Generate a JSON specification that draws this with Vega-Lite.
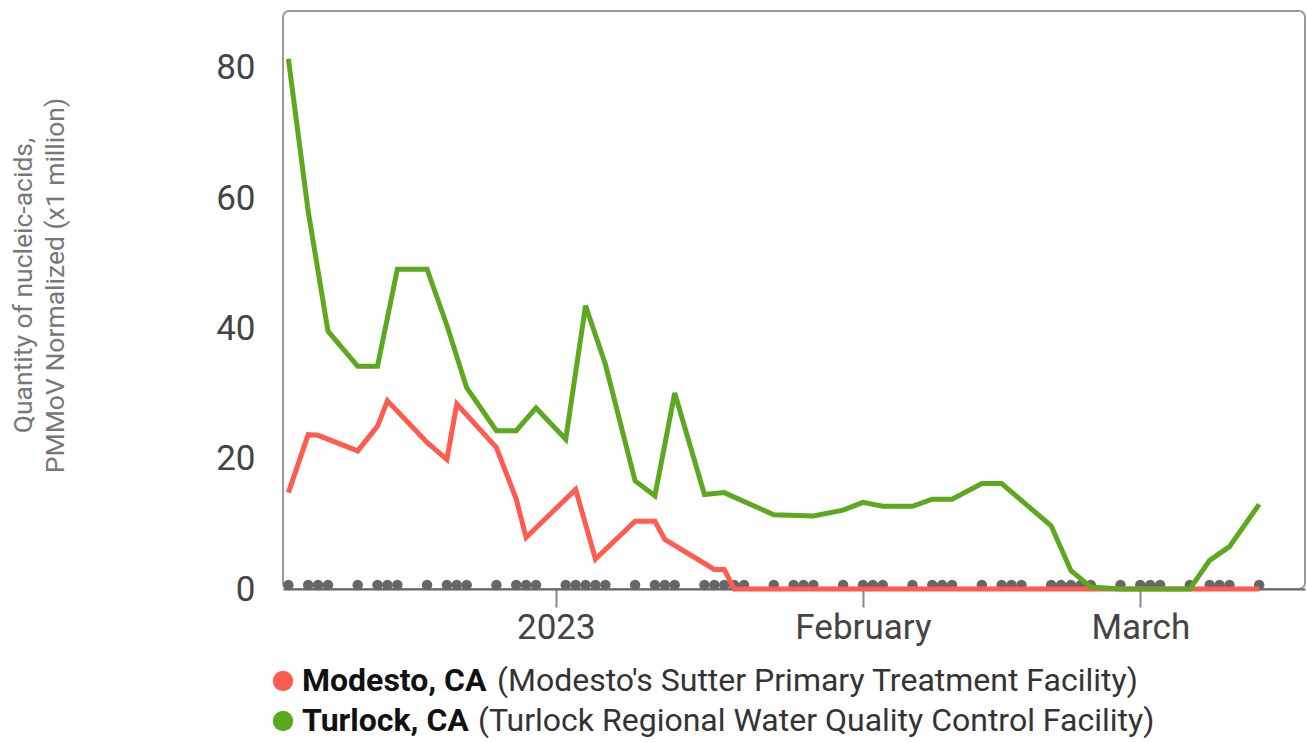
{
  "$schema": "https://vega.github.io/schema/vega-lite/v6.json",
  "padding": {"left": 9, "top": 10, "right": 0, "bottom": 0},
  "config": {"font": "Roboto", "view": {"stroke": null}},
  "spacing": 15,
  "datasets": {
    "samples": [
      {"site": "Modesto", "date": "2022-12-05", "value": 14.8},
      {"site": "Modesto", "date": "2022-12-07", "value": 23.7},
      {"site": "Modesto", "date": "2022-12-08", "value": 23.6},
      {"site": "Modesto", "date": "2022-12-12", "value": 21.2},
      {"site": "Modesto", "date": "2022-12-14", "value": 25.0},
      {"site": "Modesto", "date": "2022-12-15", "value": 28.9},
      {"site": "Modesto", "date": "2022-12-19", "value": 22.5},
      {"site": "Modesto", "date": "2022-12-21", "value": 19.9},
      {"site": "Modesto", "date": "2022-12-22", "value": 28.4},
      {"site": "Modesto", "date": "2022-12-26", "value": 21.7},
      {"site": "Modesto", "date": "2022-12-28", "value": 13.8},
      {"site": "Modesto", "date": "2022-12-29", "value": 7.9},
      {"site": "Modesto", "date": "2023-01-03", "value": 15.3},
      {"site": "Modesto", "date": "2023-01-05", "value": 4.6},
      {"site": "Modesto", "date": "2023-01-09", "value": 10.4},
      {"site": "Modesto", "date": "2023-01-11", "value": 10.4},
      {"site": "Modesto", "date": "2023-01-12", "value": 7.6},
      {"site": "Modesto", "date": "2023-01-17", "value": 3.0},
      {"site": "Modesto", "date": "2023-01-18", "value": 3.0},
      {"site": "Modesto", "date": "2023-01-19", "value": 0},
      {"site": "Modesto", "date": "2023-01-23", "value": 0},
      {"site": "Modesto", "date": "2023-01-30", "value": 0},
      {"site": "Modesto", "date": "2023-02-06", "value": 0},
      {"site": "Modesto", "date": "2023-02-13", "value": 0},
      {"site": "Modesto", "date": "2023-02-20", "value": 0},
      {"site": "Modesto", "date": "2023-02-27", "value": 0},
      {"site": "Modesto", "date": "2023-03-06", "value": 0},
      {"site": "Modesto", "date": "2023-03-13", "value": 0},
      {"site": "Turlock", "date": "2022-12-05", "value": 81.4},
      {"site": "Turlock", "date": "2022-12-07", "value": 58.0},
      {"site": "Turlock", "date": "2022-12-09", "value": 39.6},
      {"site": "Turlock", "date": "2022-12-12", "value": 34.2},
      {"site": "Turlock", "date": "2022-12-14", "value": 34.2},
      {"site": "Turlock", "date": "2022-12-16", "value": 49.1},
      {"site": "Turlock", "date": "2022-12-19", "value": 49.1},
      {"site": "Turlock", "date": "2022-12-21", "value": 40.5},
      {"site": "Turlock", "date": "2022-12-23", "value": 30.9},
      {"site": "Turlock", "date": "2022-12-26", "value": 24.3},
      {"site": "Turlock", "date": "2022-12-28", "value": 24.3},
      {"site": "Turlock", "date": "2022-12-30", "value": 27.8},
      {"site": "Turlock", "date": "2023-01-02", "value": 23.0},
      {"site": "Turlock", "date": "2023-01-04", "value": 43.5},
      {"site": "Turlock", "date": "2023-01-06", "value": 34.5},
      {"site": "Turlock", "date": "2023-01-09", "value": 16.6},
      {"site": "Turlock", "date": "2023-01-11", "value": 14.3},
      {"site": "Turlock", "date": "2023-01-13", "value": 30.1},
      {"site": "Turlock", "date": "2023-01-16", "value": 14.5},
      {"site": "Turlock", "date": "2023-01-18", "value": 14.8},
      {"site": "Turlock", "date": "2023-01-23", "value": 11.4},
      {"site": "Turlock", "date": "2023-01-27", "value": 11.2},
      {"site": "Turlock", "date": "2023-01-30", "value": 12.1},
      {"site": "Turlock", "date": "2023-02-01", "value": 13.3},
      {"site": "Turlock", "date": "2023-02-03", "value": 12.7},
      {"site": "Turlock", "date": "2023-02-06", "value": 12.7},
      {"site": "Turlock", "date": "2023-02-08", "value": 13.8},
      {"site": "Turlock", "date": "2023-02-10", "value": 13.8},
      {"site": "Turlock", "date": "2023-02-13", "value": 16.2},
      {"site": "Turlock", "date": "2023-02-15", "value": 16.2},
      {"site": "Turlock", "date": "2023-02-20", "value": 9.7},
      {"site": "Turlock", "date": "2023-02-22", "value": 2.8},
      {"site": "Turlock", "date": "2023-02-24", "value": 0.3},
      {"site": "Turlock", "date": "2023-02-27", "value": 0},
      {"site": "Turlock", "date": "2023-03-01", "value": 0},
      {"site": "Turlock", "date": "2023-03-03", "value": 0},
      {"site": "Turlock", "date": "2023-03-06", "value": 0},
      {"site": "Turlock", "date": "2023-03-08", "value": 4.4},
      {"site": "Turlock", "date": "2023-03-10", "value": 6.5},
      {"site": "Turlock", "date": "2023-03-13", "value": 13.0}
    ],
    "dates": [
      {"date": "2022-12-05"}, {"date": "2022-12-07"}, {"date": "2022-12-08"}, {"date": "2022-12-09"},
      {"date": "2022-12-12"}, {"date": "2022-12-14"}, {"date": "2022-12-15"}, {"date": "2022-12-16"},
      {"date": "2022-12-19"}, {"date": "2022-12-21"}, {"date": "2022-12-22"}, {"date": "2022-12-23"},
      {"date": "2022-12-26"}, {"date": "2022-12-28"}, {"date": "2022-12-29"}, {"date": "2022-12-30"},
      {"date": "2023-01-02"}, {"date": "2023-01-03"}, {"date": "2023-01-04"}, {"date": "2023-01-05"}, {"date": "2023-01-06"},
      {"date": "2023-01-09"}, {"date": "2023-01-11"}, {"date": "2023-01-12"}, {"date": "2023-01-13"},
      {"date": "2023-01-16"}, {"date": "2023-01-17"}, {"date": "2023-01-18"}, {"date": "2023-01-19"}, {"date": "2023-01-20"},
      {"date": "2023-01-23"}, {"date": "2023-01-25"}, {"date": "2023-01-26"}, {"date": "2023-01-27"},
      {"date": "2023-01-30"}, {"date": "2023-02-01"}, {"date": "2023-02-02"}, {"date": "2023-02-03"},
      {"date": "2023-02-06"}, {"date": "2023-02-08"}, {"date": "2023-02-09"}, {"date": "2023-02-10"},
      {"date": "2023-02-13"}, {"date": "2023-02-15"}, {"date": "2023-02-16"}, {"date": "2023-02-17"},
      {"date": "2023-02-20"}, {"date": "2023-02-21"}, {"date": "2023-02-22"}, {"date": "2023-02-23"}, {"date": "2023-02-24"},
      {"date": "2023-02-27"}, {"date": "2023-03-01"}, {"date": "2023-03-02"}, {"date": "2023-03-03"},
      {"date": "2023-03-06"}, {"date": "2023-03-08"}, {"date": "2023-03-09"}, {"date": "2023-03-10"},
      {"date": "2023-03-13"}
    ],
    "legend": [
      {"site": "Modesto", "name": "Modesto, CA", "desc": "(Modesto's Sutter Primary Treatment Facility)"},
      {"site": "Turlock", "name": "Turlock, CA", "desc": "(Turlock Regional Water Quality Control Facility)"}
    ]
  },
  "resolve": {"scale": {"x": "independent", "y": "independent"}},
  "vconcat": [
    {
      "width": 1022,
      "height": 578,
      "view": {"stroke": "#999", "strokeWidth": 2, "cornerRadius": 6},
      "encoding": {
        "x": {
          "field": "date", "type": "temporal",
          "scale": {"type": "utc", "domain": [
            {"year": 2022, "month": 12, "date": 4, "hours": 11, "utc": true},
            {"year": 2023, "month": 3, "date": 17, "hours": 15, "utc": true}
          ]},
          "axis": {
            "title": null, "grid": false,
            "tickCount": {"interval": "month", "step": 1},
            "domainColor": "#666", "domainWidth": 2,
            "tickColor": "#888", "tickWidth": 2, "tickSize": 18,
            "labelFontSize": 35, "labelColor": "#444", "labelPadding": 3,
            "labelFlush": false, "labelOverlap": false
          }
        }
      },
      "layer": [
        {
          "data": {"name": "dates"},
          "mark": {"type": "circle", "size": 110, "color": "#666", "opacity": 1, "yOffset": -4},
          "encoding": {
            "y": {"datum": 0, "type": "quantitative", "scale": {"domain": [0, 88.75], "nice": false, "zero": false},
              "axis": {
                "values": [0, 20, 40, 60, 80], "grid": false, "ticks": false, "domain": false,
                "labelFontSize": 35, "labelColor": "#444", "labelPadding": 28,
                "title": ["Quantity of nucleic-acids,", "PMMoV Normalized (x1 million)"],
                "titleFontSize": 26.5, "titleFontWeight": "normal", "titleColor": "#777",
                "titlePadding": 146, "titleLineHeight": 32, "titleY": 274
              }
            }
          }
        },
        {
          "data": {"name": "samples"},
          "mark": {"type": "line", "strokeWidth": 5, "strokeJoin": "miter"},
          "encoding": {
            "y": {"field": "value", "type": "quantitative"},
            "color": {"field": "site", "type": "nominal", "legend": null,
              "scale": {"domain": ["Modesto", "Turlock"], "range": ["#FF5B4F", "#5CA81E"]}}
          }
        }
      ]
    },
    {
      "width": 1022,
      "height": 80,
      "data": {"name": "legend"},
      "encoding": {
        "y": {"field": "site", "type": "nominal", "axis": null, "scale": {"domain": ["Modesto", "Turlock"]}}
      },
      "layer": [
        {
          "mark": {"type": "circle", "size": 415, "opacity": 1},
          "encoding": {
            "x": {"value": 0},
            "color": {"field": "site", "type": "nominal", "legend": null,
              "scale": {"domain": ["Modesto", "Turlock"], "range": ["#FF5B4F", "#5CA81E"]}}
          }
        },
        {
          "mark": {"type": "text", "align": "left", "baseline": "middle", "fontWeight": "bold", "fontSize": 32, "color": "#111", "dx": 19},
          "encoding": {"x": {"value": 0}, "text": {"field": "name"}}
        },
        {
          "transform": [{"filter": "datum.site === 'Modesto'"}],
          "mark": {"type": "text", "align": "left", "baseline": "middle", "fontSize": 32, "color": "#333", "dx": 214},
          "encoding": {"x": {"value": 0}, "text": {"field": "desc"}}
        },
        {
          "transform": [{"filter": "datum.site === 'Turlock'"}],
          "mark": {"type": "text", "align": "left", "baseline": "middle", "fontSize": 32, "color": "#333", "dx": 195},
          "encoding": {"x": {"value": 0}, "text": {"field": "desc"}}
        }
      ]
    }
  ]
}
